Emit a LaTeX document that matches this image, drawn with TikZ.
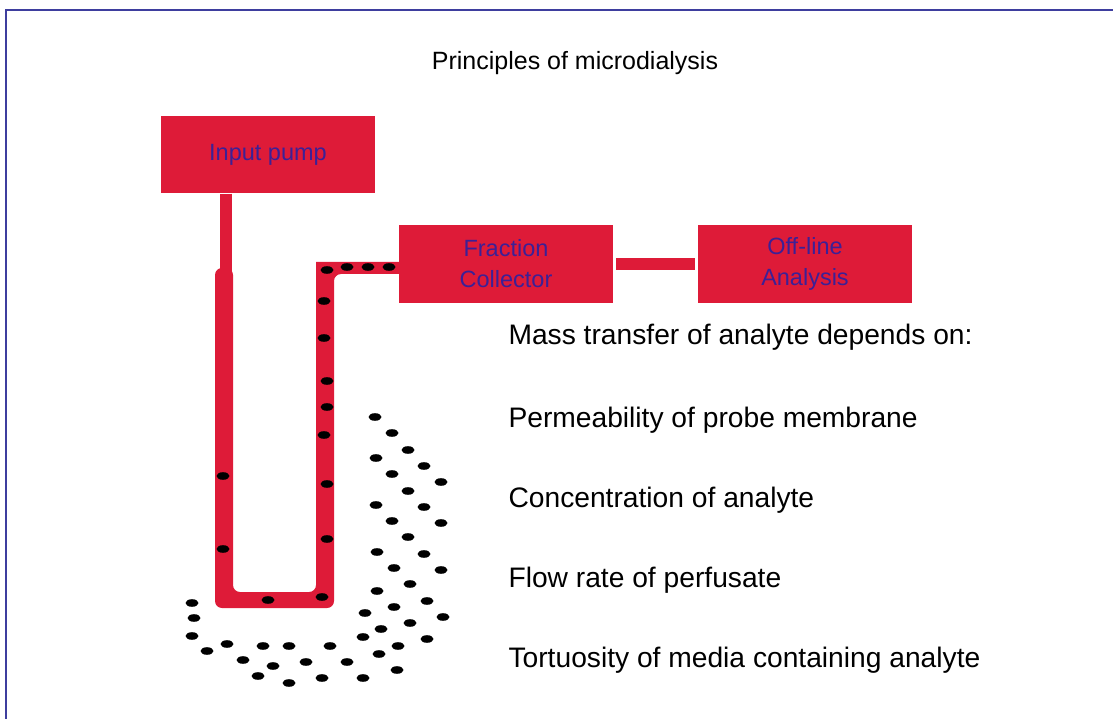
\documentclass[tikz,border=0pt]{standalone}
\usepackage{fontspec}
\setmainfont{Liberation Sans}
\definecolor{pumpred}{RGB}{222,27,56}
\definecolor{unitblue}{RGB}{60,32,150}
\definecolor{frameblue}{RGB}{62,62,158}
\tikzset{
  unit/.style={fill=pumpred, minimum width=214pt, minimum height=77pt, inner sep=0pt,
    text=unitblue, align=center, font=\fontsize{23.5}{31}\selectfont},
  pipe/.style={draw=pumpred, line width=12pt},
  factor/.style={anchor=west, font=\fontsize{28.2}{32}\selectfont},
  molecule/.style={fill=black},
}

\begin{document}
\begin{tikzpicture}[x=1pt, y=-1pt]
    \useasboundingbox (0,0) rectangle (1113,719);
    \draw[frameblue, line width=2.5pt] (1113,10) -- (6,10) -- (6,719);
    \node[font=\fontsize{25}{30}\selectfont] (title) at (575,63) {Principles of microdialysis};
    \node[unit] (pump) at (268,155) {Input pump};
    \node[unit] (collector) at (506,264) {Fraction\\Collector};
    \node[unit] (analysis) at (805,264) {Off-line\\Analysis};
    \fill[pumpred, rounded corners=7pt] (233,268) -- (215,268) -- (215,608) -- (334,608)
        -- (334,274) [sharp corners] -- (collector.west |- 0,274) -- (collector.west |- 0,262)
        -- (316,262) [rounded corners=7pt] -- (316,592) -- (233,592) -- cycle;
    \coordinate (inlet) at (226,272);
    \draw[pipe] (pump.south -| inlet) -- (inlet);
    \draw[pipe, shorten <=3pt, shorten >=3pt] (collector.east) -- (analysis.west);
    \node[factor] (mass) at (505,337) {Mass transfer of analyte depends on:};
    \node[factor] (perm) at (505,420) {Permeability of probe membrane};
    \node[factor] (conc) at (505,500) {Concentration of analyte};
    \node[factor] (flow) at (505,580) {Flow rate of perfusate};
    \node[factor] (tort) at (505,660) {Tortuosity of media containing analyte};
    \foreach \x/\y in {327/270, 347/267, 368/267, 389/267, 324/301, 324/338, 327/381,
        327/407, 324/435, 327/484, 327/539, 322/597, 223/476, 223/549, 268/600}
        \fill[molecule] (\x,\y) ellipse (6.5pt and 3.8pt);
    \foreach \x/\y in {375/417, 392/433, 408/450, 376/458, 424/466, 392/474, 441/482,
        408/491, 376/505, 424/507, 392/521, 441/523, 408/537, 377/552, 424/554, 394/568,
        441/570, 410/584, 377/591, 427/601, 394/607, 365/613, 443/617, 410/623, 381/629,
        363/637, 427/639, 398/646, 379/654, 397/670, 192/603, 194/618, 192/636, 207/651,
        227/644, 243/660, 263/646, 289/646, 330/646, 273/666, 306/662, 347/662, 258/676,
        289/683, 322/678, 363/678}
        \fill[molecule] (\x,\y) ellipse (6.5pt and 3.8pt);
\end{tikzpicture}
\end{document}
